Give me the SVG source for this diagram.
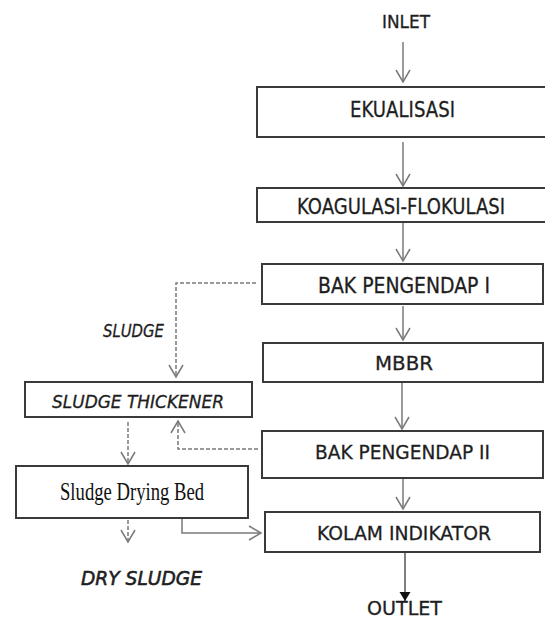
<svg xmlns="http://www.w3.org/2000/svg" width="545" height="618" viewBox="0 0 545 618">
<defs>
<marker id="open" markerUnits="userSpaceOnUse" markerWidth="20" markerHeight="20" viewBox="-14 -10 16 20" refX="0" refY="0" orient="auto">
<path d="M-12,-7 L0,0 L-12,7" fill="none" stroke="#7a7a7a" stroke-width="1.5"/>
</marker>
<marker id="filled" markerUnits="userSpaceOnUse" markerWidth="14" markerHeight="14" viewBox="-10 -7 12 14" refX="0" refY="0" orient="auto">
<path d="M-9,-5.5 L0,0 L-9,5.5 Z" fill="#111"/>
</marker>
<style>
.box{fill:#fff;stroke:#3a3a3a;stroke-width:2}
.lbl{font-family:"DejaVu Sans","Liberation Sans",sans-serif;fill:#1e1e1e;stroke:#1e1e1e;stroke-width:0.3}
.it{font-family:"DejaVu Sans","Liberation Sans",sans-serif;font-style:italic;fill:#1e1e1e;stroke:#1e1e1e;stroke-width:0.3}
.ser{font-family:"Liberation Serif","Times New Roman",serif;fill:#111}
.ln{fill:none;stroke:#7a7a7a;stroke-width:1.5}
.dash{fill:none;stroke:#7a7a7a;stroke-width:1.5;stroke-dasharray:4 2}
</style>
</defs>
<g id="connectors">
<line class="ln" x1="403" y1="42" x2="403" y2="82" marker-end="url(#open)"/>
<line class="ln" x1="403" y1="142" x2="403" y2="186" marker-end="url(#open)"/>
<line class="ln" x1="403" y1="222" x2="403" y2="261" marker-end="url(#open)"/>
<line class="ln" x1="403" y1="306" x2="403" y2="340" marker-end="url(#open)"/>
<line class="ln" x1="402" y1="383" x2="402" y2="429" marker-end="url(#open)"/>
<line class="ln" x1="403" y1="479" x2="403" y2="509" marker-end="url(#open)"/>
<line x1="405" y1="553" x2="405" y2="601" stroke="#555" stroke-width="1.5" marker-end="url(#filled)"/>
<path class="dash" d="M256,283 H176 V377" marker-end="url(#open)"/>
<path class="dash" d="M258,449 H178 V421" marker-end="url(#open)"/>
<line class="dash" x1="128" y1="422" x2="128" y2="464" marker-end="url(#open)"/>
<line class="dash" x1="128" y1="520" x2="128" y2="542" marker-end="url(#open)"/>
<path class="ln" d="M182,518 V533 H261" marker-end="url(#open)"/>
</g>
<g id="inlet"><text class="lbl" x="382" y="28" font-size="18" textLength="48" lengthAdjust="spacingAndGlyphs">INLET</text></g>
<g id="ekualisasi"><rect class="box" x="257" y="87" width="300" height="50"/><text class="lbl" x="350" y="117" font-size="22" textLength="105" lengthAdjust="spacingAndGlyphs">EKUALISASI</text></g>
<g id="koagulasi"><rect class="box" x="257" y="188" width="300" height="34"/><text class="lbl" x="297" y="214" font-size="21" textLength="208" lengthAdjust="spacingAndGlyphs">KOAGULASI-FLOKULASI</text></g>
<g id="bak1"><rect class="box" x="262" y="264" width="281" height="40"/><text class="lbl" x="318" y="293" font-size="21" textLength="172" lengthAdjust="spacingAndGlyphs">BAK PENGENDAP I</text></g>
<g id="mbbr"><rect class="box" x="263" y="343" width="280" height="39"/><text class="lbl" x="375" y="370" font-size="20" textLength="58" lengthAdjust="spacingAndGlyphs">MBBR</text></g>
<g id="bak2"><rect class="box" x="262" y="431" width="281" height="47"/><text class="lbl" x="315" y="459" font-size="20" textLength="175" lengthAdjust="spacingAndGlyphs">BAK PENGENDAP II</text></g>
<g id="kolam"><rect class="box" x="265" y="512" width="275" height="40"/><text class="lbl" x="317" y="540" font-size="20" textLength="174" lengthAdjust="spacingAndGlyphs">KOLAM INDIKATOR</text></g>
<g id="outlet"><text class="lbl" x="367" y="615" font-size="19" textLength="75" lengthAdjust="spacingAndGlyphs">OUTLET</text></g>
<g id="sludge-label"><text class="it" x="103" y="337" font-size="17" textLength="61" lengthAdjust="spacingAndGlyphs">SLUDGE</text></g>
<g id="thickener"><rect class="box" x="25" y="382" width="227" height="35"/><text class="it" x="52" y="408" font-size="17" textLength="172" lengthAdjust="spacingAndGlyphs">SLUDGE THICKENER</text></g>
<g id="drying-bed"><rect class="box" x="16" y="466" width="232" height="52"/><text class="ser" x="60" y="500" font-size="25" textLength="144" lengthAdjust="spacingAndGlyphs">Sludge Drying Bed</text></g>
<g id="dry-sludge"><text class="it" x="81" y="585" font-size="20" style="stroke-width:0.6" textLength="121" lengthAdjust="spacingAndGlyphs">DRY SLUDGE</text></g>
</svg>
